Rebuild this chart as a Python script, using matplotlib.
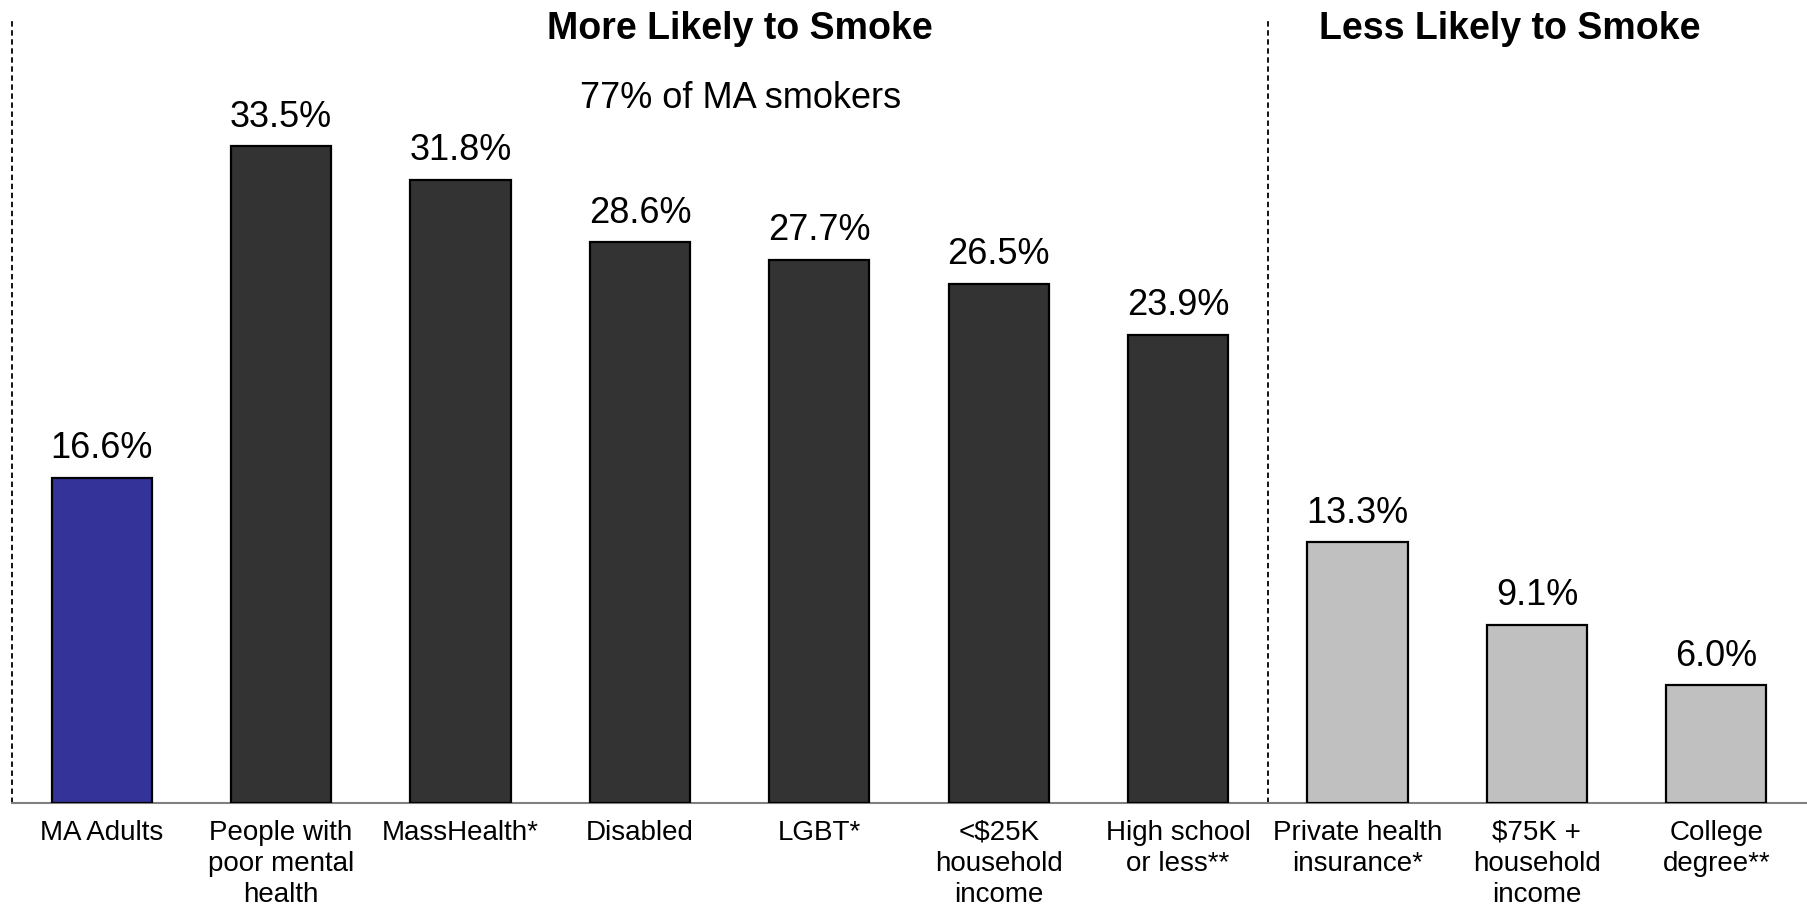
import matplotlib.pyplot as plt

plt.rcParams['font.family'] = ['Liberation Sans', 'DejaVu Sans']

labels = ["MA Adults", "People with\npoor mental\nhealth", "MassHealth*", "Disabled",
          "LGBT*", "<$25K\nhousehold\nincome", "High school\nor less**",
          "Private health\ninsurance*", "$75K +\nhousehold\nincome", "College\ndegree**"]
values = [16.6, 33.5, 31.8, 28.6, 27.7, 26.5, 23.9, 13.3, 9.1, 6.0]
groups = ["all", "more", "more", "more", "more", "more", "more", "less", "less", "less"]
group_colors = {"all": "#333399", "more": "#333333", "less": "#C0C0C0"}

fig = plt.figure(figsize=(18.08, 9.10), dpi=100)
ax = fig.add_axes([12 / 1808, 107 / 910, 1794 / 1808, 784 / 910])

x = list(range(len(values)))
ax.bar(x, values, width=0.558, color=[group_colors[g] for g in groups],
       edgecolor="black", linewidth=1.6, zorder=3)

for xi, v in zip(x, values):
    ax.text(xi, v + 1.0, f"{v:.1f}%", ha="center", va="baseline", fontsize=26)

ax.set_xlim(-0.5, 9.5)
ax.set_ylim(0, 40)

# dashed separators
for xs in [-0.5, 6.5]:
    ax.axvline(xs, ymin=0, ymax=1, color="black", linestyle=(0, (3, 2)),
               linewidth=1.3, clip_on=False)

ax.text(3.56, 39.0, "More Likely to Smoke", ha="center", va="baseline",
        fontsize=27, fontweight="bold")
ax.text(3.56, 35.46, "77% of MA smokers", ha="center", va="baseline", fontsize=26)
ax.text(7.85, 39.0, "Less Likely to Smoke", ha="center", va="baseline",
        fontsize=27, fontweight="bold")

for side in ["top", "right", "left"]:
    ax.spines[side].set_visible(False)
ax.spines["bottom"].set_color("#808080")
ax.spines["bottom"].set_linewidth(1.5)
ax.set_yticks([])
ax.set_xticks(x)
ax.set_xticklabels(labels, fontsize=20, linespacing=1.25)
ax.tick_params(axis="x", length=0, pad=12)

fig.savefig("out.png", dpi=100)
